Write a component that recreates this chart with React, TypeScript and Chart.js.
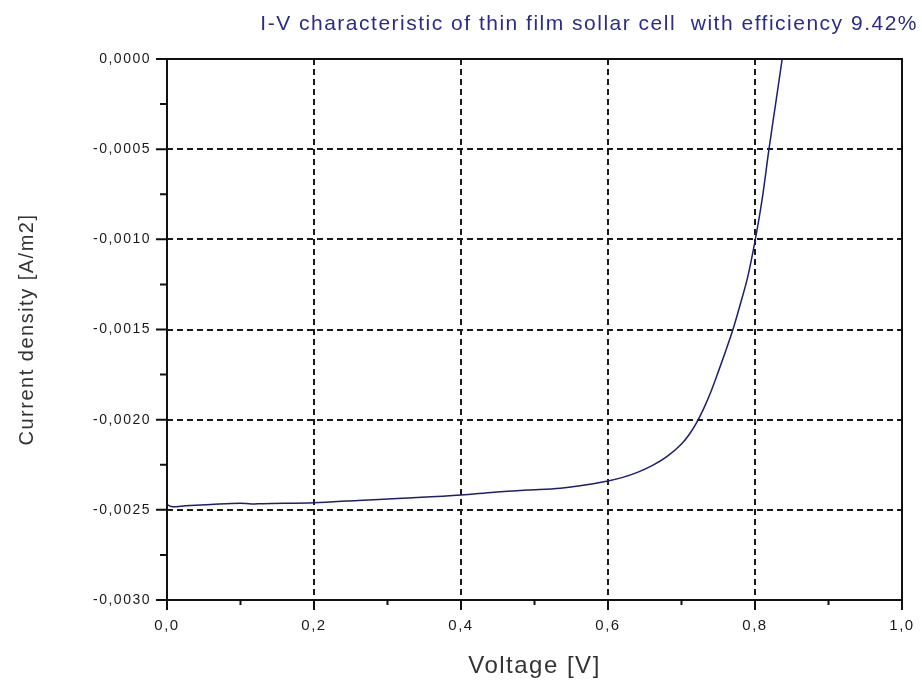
import React, { useEffect, useRef } from 'react';
import { Chart, registerables } from 'chart.js';

Chart.register(...registerables);

const TITLE = 'I-V characteristic of thin film sollar cell  with efficiency 9.42%';
const X_TITLE = 'Voltage [V]';
const Y_TITLE = 'Current density [A/m2]';

const VOLTAGE = [
  0.0, 0.008, 0.025, 0.06, 0.1, 0.115, 0.13, 0.2, 0.26, 0.32, 0.4, 0.445, 0.49, 0.535,
  0.58, 0.6, 0.62, 0.64, 0.66, 0.68, 0.7, 0.71, 0.72, 0.73, 0.74, 0.75, 0.76, 0.77,
  0.78, 0.79, 0.8, 0.81, 0.819, 0.828, 0.837,
];
const CURRENT = [
  -0.002472, -0.002483, -0.002478, -0.00247, -0.002463, -0.002468, -0.002466, -0.002461,
  -0.002448, -0.002436, -0.002418, -0.002402, -0.00239, -0.00238, -0.002355, -0.00234,
  -0.00232, -0.002292, -0.002255, -0.002205, -0.002135, -0.002085, -0.00202, -0.00194,
  -0.001845, -0.001735, -0.00162, -0.0015, -0.00136, -0.00121, -0.00101, -0.00077,
  -0.0005, -0.00025, 0.0,
];

const X_TICKS = [0, 0.2, 0.4, 0.6, 0.8, 1.0];
const X_MINOR = [0.1, 0.3, 0.5, 0.7, 0.9];
const Y_TICKS = [-0.003, -0.0025, -0.002, -0.0015, -0.001, -0.0005, 0];
const Y_MINOR = [-0.00275, -0.00225, -0.00175, -0.00125, -0.00075, -0.00025];

const FAMILY = '"Liberation Sans", Arial, sans-serif';
const SPACING = '1.5px';

const spacingPlugin = {
  id: 'letterSpacing',
  beforeLayout(chart: any) {
    chart.ctx.letterSpacing = SPACING;
  },
  beforeDraw(chart: any) {
    chart.ctx.letterSpacing = SPACING;
  },
};

const framePlugin = {
  id: 'frameTicks',
  afterDraw(chart: any) {
    const { ctx, chartArea, scales } = chart;
    const { left, right, top, bottom } = chartArea;
    const x = scales.x;
    const y = scales.y;
    ctx.save();
    ctx.setLineDash([]);
    ctx.strokeStyle = '#111';
    ctx.lineWidth = 2;
    ctx.strokeRect(left, top, right - left, bottom - top);
    ctx.beginPath();
    X_TICKS.forEach((v) => {
      const px = x.getPixelForValue(v);
      ctx.moveTo(px, bottom);
      ctx.lineTo(px, bottom + 10);
    });
    X_MINOR.forEach((v) => {
      const px = x.getPixelForValue(v);
      ctx.moveTo(px, bottom);
      ctx.lineTo(px, bottom + 5);
    });
    Y_TICKS.forEach((v) => {
      const py = y.getPixelForValue(v);
      ctx.moveTo(left - 11, py);
      ctx.lineTo(left, py);
    });
    Y_MINOR.forEach((v) => {
      const py = y.getPixelForValue(v);
      ctx.moveTo(left - 7, py);
      ctx.lineTo(left, py);
    });
    ctx.stroke();
    ctx.restore();
  },
};

export default function App() {
  const ref = useRef<HTMLCanvasElement | null>(null);

  useEffect(() => {
    if (!ref.current) return;
    const chart = new Chart(ref.current, {
      type: 'line',
      data: {
        datasets: [
          {
            data: VOLTAGE.map((v, i) => ({ x: v, y: CURRENT[i] })),
            borderColor: '#1e1e6e',
            borderWidth: 1.5,
            pointRadius: 0,
            cubicInterpolationMode: 'monotone',
            fill: false,
          },
        ],
      },
      options: {
        responsive: false,
        animation: false,
        layout: { padding: { left: 0, right: 4, top: 0, bottom: 0 } },
        plugins: {
          legend: { display: false },
          tooltip: { enabled: false },
          title: {
            display: true,
            text: TITLE,
            align: 'end',
            color: '#2b2b8c',
            font: { family: FAMILY, size: 21, weight: 'normal' },
            padding: { top: 12, bottom: 21.8 },
          },
        },
        scales: {
          x: {
            type: 'linear',
            min: 0,
            max: 1,
            afterBuildTicks: (s: any) => {
              s.ticks = X_TICKS.map((v) => ({ value: v }));
            },
            afterFit: (s: any) => {
              s.height = 84;
              s.paddingLeft = 0;
              s.paddingRight = 0;
            },
            ticks: {
              color: '#1a1a1a',
              padding: 17,
              maxRotation: 0,
              font: { family: FAMILY, size: 15 },
              callback: (v: any) => Number(v).toFixed(1).replace('.', ','),
            },
            grid: { color: '#1a1a1a', lineWidth: 2, drawTicks: false },
            border: { display: false, dash: [6, 4] },
            title: {
              display: true,
              text: X_TITLE,
              color: '#333',
              font: { family: FAMILY, size: 24 },
              padding: { top: 0, bottom: 3 },
            },
          },
          y: {
            type: 'linear',
            min: -0.003,
            max: 0,
            afterBuildTicks: (s: any) => {
              s.ticks = Y_TICKS.map((v) => ({ value: v }));
            },
            afterFit: (s: any) => {
              s.width = 167;
              s.paddingTop = 0;
              s.paddingBottom = 0;
            },
            ticks: {
              color: '#1a1a1a',
              padding: 16,
              font: { family: FAMILY, size: 14 },
              callback: (v: any) => Number(v).toFixed(4).replace('.', ','),
            },
            grid: { color: '#1a1a1a', lineWidth: 2, drawTicks: false },
            border: { display: false, dash: [6, 4] },
            title: {
              display: true,
              text: Y_TITLE,
              color: '#333',
              font: { family: FAMILY, size: 20 },
              padding: { top: 15, bottom: 0 },
            },
          },
          yR: {
            type: 'linear',
            position: 'right',
            min: 0,
            max: 1,
            display: true,
            grid: { display: false, drawTicks: false },
            border: { display: false },
            ticks: { display: false },
            afterFit: (s: any) => {
              s.width = 16;
            },
          },
        },
      } as any,
      plugins: [spacingPlugin, framePlugin],
    });
    return () => chart.destroy();
  }, []);

  return (
    <div style={{ position: 'absolute', left: 0, top: 0, width: 922, height: 684, background: '#fff' }}>
      <canvas ref={ref} width={922} height={684} style={{ display: 'block' }} />
    </div>
  );
}
